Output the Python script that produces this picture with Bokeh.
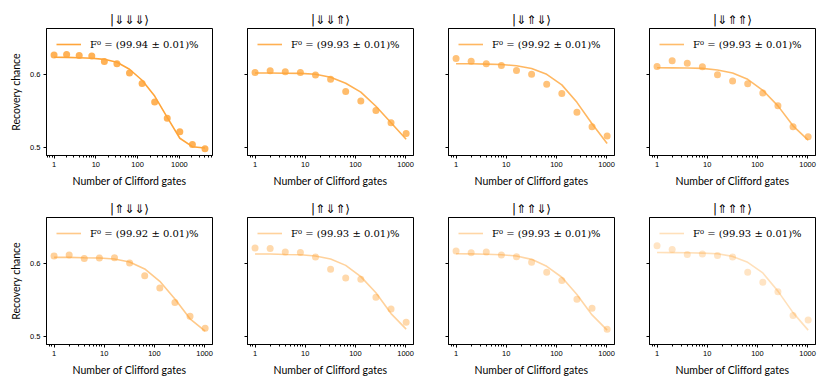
from bokeh.plotting import figure
from bokeh.layouts import gridplot
from bokeh.models import Range1d, FixedTicker, NumeralTickFormatter, Legend, LegendItem, CustomJSTickFormatter
from bokeh.embed import file_html
from bokeh.resources import INLINE

titles = ["|⇓⇓⇓⟩", "|⇓⇓⇑⟩", "|⇓⇑⇓⟩", "|⇓⇑⇑⟩",
          "|⇑⇓⇓⟩", "|⇑⇓⇑⟩", "|⇑⇑⇓⟩", "|⇑⇑⇑⟩"]
fidelities = ["99.94", "99.93", "99.92", "99.93", "99.92", "99.93", "99.93", "99.93"]

gates_long = [1, 2, 4, 8, 16, 32, 64, 128, 256, 512, 1024, 2048, 4096]
gates_short = [1, 2, 4, 8, 16, 32, 64, 128, 256, 512, 1024]

rec1 = [0.6260, 0.6265, 0.6251, 0.6247, 0.6170, 0.6139, 0.6013, 0.5870, 0.5619, 0.5399, 0.5215, 0.5040, 0.4982]
fit1 = [0.6228, 0.6226, 0.6222, 0.6215, 0.6200, 0.6160, 0.6065, 0.5915, 0.5700, 0.5410, 0.5125, 0.5010, 0.4992]
rec2 = [0.6022, 0.6045, 0.6031, 0.6022, 0.5987, 0.5928, 0.5762, 0.5632, 0.5502, 0.5336, 0.5188]
fit2 = [0.6013, 0.6013, 0.6011, 0.6009, 0.5996, 0.5955, 0.5874, 0.5753, 0.5561, 0.5336, 0.5112]
rec3 = [0.6211, 0.6175, 0.6139, 0.6117, 0.6049, 0.5996, 0.5861, 0.5735, 0.5480, 0.5283, 0.5157]
fit3 = [0.6139, 0.6139, 0.6135, 0.6130, 0.6112, 0.6076, 0.5996, 0.5852, 0.5614, 0.5323, 0.5054]
rec4 = [0.6104, 0.6181, 0.6145, 0.6100, 0.5991, 0.5905, 0.5869, 0.5742, 0.5566, 0.5281, 0.5145]
fit4 = [0.6086, 0.6084, 0.6081, 0.6077, 0.6054, 0.6014, 0.5928, 0.5778, 0.5566, 0.5294, 0.5100]
rec5 = [0.6095, 0.6109, 0.6063, 0.6068, 0.6072, 0.6000, 0.5828, 0.5661, 0.5462, 0.5276, 0.5113]
fit5 = [0.6077, 0.6077, 0.6072, 0.6068, 0.6054, 0.6014, 0.5919, 0.5751, 0.5511, 0.5240, 0.5072]
rec6 = [0.6203, 0.6198, 0.6149, 0.6144, 0.6081, 0.5914, 0.5797, 0.5779, 0.5532, 0.5374, 0.5194]
fit6 = [0.6122, 0.6122, 0.6117, 0.6113, 0.6095, 0.6054, 0.5968, 0.5815, 0.5595, 0.5311, 0.5099]
rec7 = [0.6162, 0.6140, 0.6149, 0.6108, 0.6086, 0.6009, 0.5874, 0.5761, 0.5505, 0.5383, 0.5099]
fit7 = [0.6126, 0.6124, 0.6120, 0.6113, 0.6095, 0.6050, 0.5955, 0.5806, 0.5572, 0.5293, 0.5086]
rec8 = [0.6234, 0.6185, 0.6117, 0.6122, 0.6104, 0.6081, 0.5874, 0.5739, 0.5608, 0.5284, 0.5225]
fit8 = [0.6144, 0.6142, 0.6140, 0.6135, 0.6126, 0.6090, 0.6009, 0.5865, 0.5617, 0.5324, 0.5086]

recoveries = [rec1, rec2, rec3, rec4, rec5, rec6, rec7, rec8]
fits = [fit1, fit2, fit3, fit4, fit5, fit6, fit7, fit8]
alphas = [1.0, 0.88, 0.8, 0.75, 0.6, 0.5, 0.45, 0.35]
base_color = "#FFA53A"

x_major = [1, 10, 100, 1000]
x_minor = [m * d for d in [0.1, 1, 10, 100, 1000] for m in range(2, 10)]
y_major = [0.5, 0.6]

SANS = "Lato"


def make_panel(i):
    row, col = divmod(i, 4)
    x = gates_long if i == 0 else gates_short
    xr = (0.66, 6200) if i == 0 else (0.707, 1435)
    p = figure(
        x_axis_type="log",
        x_range=Range1d(*xr), y_range=Range1d(0.489, 0.662),
        frame_width=166, frame_height=127,
        min_border_left=46 if col == 0 else 18,
        min_border_right=8 if col == 3 else 17,
        min_border_top=28 if row == 0 else 20,
        min_border_bottom=42 if row == 0 else 36,
        output_backend="svg", toolbar_location=None,
        title=titles[i],
    )
    p.title.align = "center"
    p.title.text_font = "DejaVu Sans"
    p.title.text_font_size = "12px"
    p.title.text_font_style = "normal"
    p.title.text_color = "black"
    p.title.standoff = 4

    a = alphas[i]
    r = p.line(x, fits[i], line_color=base_color, line_alpha=a, line_width=1.6)
    p.scatter(x, recoveries[i], size=7, fill_color=base_color, fill_alpha=a * 0.85, line_color=None)

    legend = Legend(items=[LegendItem(label=f"F⁰ = ({fidelities[i]} ± 0.01)%", renderers=[r])],
                    location="top_left", margin=10, padding=0, spacing=0,
                    glyph_width=25, glyph_height=12, label_height=12, label_standoff=9,
                    label_text_font="DejaVu Serif", label_text_font_size="10px",
                    label_text_color="black",
                    border_line_alpha=0, background_fill_alpha=0)
    p.add_layout(legend)

    p.grid.visible = False
    p.outline_line_color = "black"
    p.outline_line_width = 1
    p.outline_line_alpha = 1

    p.xaxis.ticker = FixedTicker(ticks=x_major, minor_ticks=x_minor)
    p.xaxis.formatter = NumeralTickFormatter(format="0")
    p.yaxis.ticker = FixedTicker(ticks=y_major, minor_ticks=[])
    for ax in (p.xaxis[0], p.yaxis[0]):
        ax.axis_line_color = "black"
        ax.major_tick_line_color = "black"
        ax.minor_tick_line_color = "black"
        ax.major_tick_in = 0
        ax.major_tick_out = 3
        ax.minor_tick_in = 0
        ax.minor_tick_out = 2
        ax.major_label_text_font = "Liberation Sans"
        ax.major_label_text_font_size = "7.5px"
        ax.major_label_text_color = "black"
        ax.major_label_standoff = 3
        ax.axis_label_text_font = SANS
        ax.axis_label_text_font_size = "10.5px"
        ax.axis_label_text_font_style = "normal"
        ax.axis_label_text_color = "black"
        ax.axis_label_standoff = 5
    p.xaxis.axis_label = "Number of Clifford gates"
    if col == 0:
        p.yaxis.axis_label = "Recovery chance"
    else:
        p.yaxis.formatter = CustomJSTickFormatter(code="return '';")
    return p


panels = [make_panel(i) for i in range(8)]
grid = gridplot([panels[0:4], panels[4:8]], toolbar_location=None)

open("out.html", "w").write(file_html(grid, INLINE))
